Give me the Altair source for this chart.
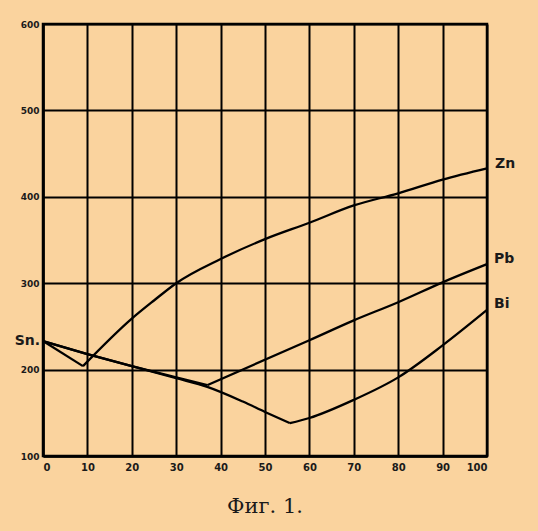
import altair as alt
import pandas as pd

# Liquidus curves (Sn with Zn, Pb, Bi): % of second metal vs temperature
zn_x = [0, 9, 20, 25, 30, 40, 50, 60, 70, 80, 90, 100]
zn_t = [233, 204, 259, 280, 300, 328, 351, 370, 390, 404, 420, 433]

pb_x = [0, 10, 20, 30, 37, 60, 70, 80, 90, 100]
pb_t = [233, 218, 204, 191, 182, 234, 257, 278, 301, 322]

bi_x = [0, 10, 20, 30, 37, 45, 50, 55.6, 60, 70, 80, 90, 100]
bi_t = [233, 218, 204, 190, 180, 163, 151, 138, 144, 165, 191, 228, 269]

x_ticks = [0, 10, 20, 30, 40, 50, 60, 70, 80, 90, 100]
y_ticks = [100, 200, 300, 400, 500, 600]

labels = ["Zn", "Pb", "Bi"]
label_x = [100, 100, 100]
label_t = [433, 322, 269]

rows = []
for name, xs, ts in [("Zn", zn_x, zn_t), ("Pb", pb_x, pb_t), ("Bi", bi_x, bi_t)]:
    k = ts.index(min(ts))  # eutectic point splits the two branches
    for i, (a, b) in enumerate(zip(xs, ts)):
        if i <= k:
            rows.append({"seg": name + "-L", "x": a, "t": b, "order": i})
        if i >= k:
            rows.append({"seg": name + "-R", "x": a, "t": b, "order": i})
df = pd.DataFrame(rows)

xscale = alt.Scale(domain=[0, 100], nice=False, zero=False)
yscale = alt.Scale(domain=[100, 600], nice=False, zero=False)

xaxis = alt.Axis(values=x_ticks, title=None, grid=True, gridColor="black", gridWidth=2,
                 gridOpacity=1, domainColor="black", domainWidth=2.5, ticks=False,
                 labelFont="DejaVu Sans", labelFontWeight="bold", labelFontSize=10,
                 labelColor="#1a1a1a", labelPadding=6)
yaxis = alt.Axis(values=y_ticks, title=None, grid=True, gridColor="black", gridWidth=2,
                 gridOpacity=1, domainColor="black", domainWidth=2.5, ticks=False,
                 labelFont="DejaVu Sans", labelFontWeight="bold", labelFontSize=9,
                 labelColor="#1a1a1a", labelPadding=4)

lines = alt.Chart(df).mark_line(color="black", strokeWidth=2.3, interpolate="monotone").encode(
    x=alt.X("x:Q", scale=xscale, axis=xaxis),
    y=alt.Y("t:Q", scale=yscale, axis=yaxis),
    detail="seg:N",
    order="order:Q",
)

def label_layer(text, xv, tv, dx, dy, align):
    d = pd.DataFrame({"text": [text], "x": [xv], "t": [tv]})
    return alt.Chart(d).mark_text(font="DejaVu Sans", fontSize=14, fontWeight="bold",
                                  color="#1a1a1a", dx=dx, dy=dy, align=align).encode(
        x=alt.X("x:Q", scale=xscale), y=alt.Y("t:Q", scale=yscale), text="text:N")

layers = [lines,
          label_layer("Sn.", 0, zn_t[0], -3, 0, "right"),
          label_layer(labels[0], label_x[0], label_t[0], 8, -4, "left"),
          label_layer(labels[1], label_x[1], label_t[1], 7, -5, "left"),
          label_layer(labels[2], label_x[2], label_t[2], 7, -6, "left")]

chart = alt.layer(*layers).properties(
    width=444, height=432,
    autosize=alt.AutoSizeParams(type="none"),
    padding={"left": 43, "top": 24, "right": 51, "bottom": 75},
    background="#FAD39E",
    title=alt.TitleParams(text="Фиг. 1.", orient="bottom", font="DejaVu Serif",
                          fontSize=21, fontWeight="normal", color="#1a1a1a", offset=24),
).configure_view(stroke="black", strokeWidth=2.5)

chart.save("out.html", embed_options={"renderer": "svg", "actions": False})
